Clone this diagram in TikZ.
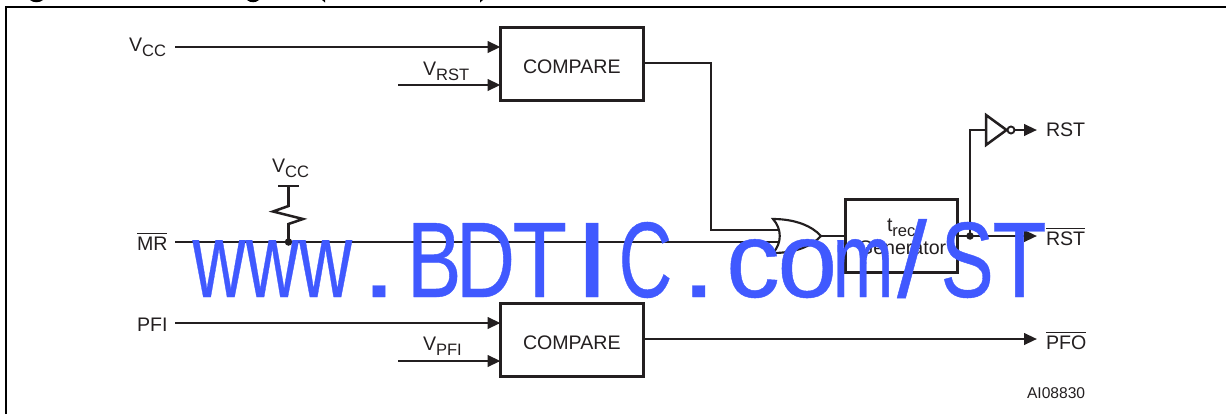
\documentclass[tikz,border=0pt]{standalone}
\usepackage{fontspec}
\setmainfont{Liberation Sans}
\newfontfamily\markfont[FakeBold=0.4]{Liberation Sans}
\usetikzlibrary{arrows.meta}
\def\px{0.75pt}
\def\slashch{/}
\newcommand{\lowsub}[1]{\raisebox{-4pt}{\fontsize{12.4pt}{14pt}\selectfont #1}}
\newcommand{\barred}[1]{\vbox{\hrule height 0.9pt\kern 1.6pt\hbox{#1}}}
\definecolor{ink}{HTML}{231F20}
\definecolor{wmark}{HTML}{4059FF}
\tikzset{
  wire/.style={draw=ink,line width=1.9pt,line cap=butt,line join=miter},
  feed/.style={wire,-{Triangle[length=9.75pt,width=8.6pt]}},
  blockbox/.style={draw=ink,line width=2.25pt,fill=white,inner sep=0pt,outer sep=0pt,minimum height=73*\px},
  lbl/.style={anchor=base west,inner sep=0pt,outer sep=0pt,font=\fontsize{14.7pt}{17pt}\selectfont,text=ink},
  smalllbl/.style={lbl,font=\fontsize{11.7pt}{14pt}\selectfont},
  joint/.style={circle,fill=ink,inner sep=0pt,minimum size=7.5*\px},
  gateline/.style={draw=ink,line width=1.6pt,fill=white,line join=miter},
  markchar/.style={anchor=base,inner sep=0pt,outer sep=0pt,text=wmark,font=\markfont\fontsize{80.6pt}{90pt}\selectfont},
}
\begin{document}
\begin{tikzpicture}[x=0.75pt,y=-0.75pt]
\useasboundingbox (0,0) rectangle (1226,414);
\clip (0,0) rectangle (1226,414);
% title fragments cut by the page edge
\fill[black] (30,0) .. controls (33,3) and (40,3) .. (43,0) -- cycle;
\fill[black] (247,0) .. controls (250,3) and (256,3) .. (259,0) -- cycle;
\fill[black] (322,0) -- (325,0) -- (325,2.5) -- cycle;
\fill[black] (480,2.5) -- (483,0) -- (480,0) -- cycle;
% frame
\coordinate (frameA) at (6,414);
\coordinate (frameB) at (6,7);
\coordinate (frameC) at (1226,7);
\draw[black,line width=2pt] (frameA) -- (frameB) -- (frameC);
% blocks
\node[blockbox,minimum width=143*\px] (cmpA) at (572,64) {};
\node[blockbox,minimum width=143*\px] (cmpB) at (572,340) {};
\node[blockbox,minimum width=112*\px] (gen) at (901.5,236) {};
\node[lbl] (cmpAtxt) at (523,73) {COMPARE};
\node[lbl] (cmpBtxt) at (523,349) {COMPARE};
\node[lbl] (trec) at (887,231) {t\lowsub{rec}};
\node[lbl] (gentxt) at (858,254) {Generator};
% labels
\node[lbl] (lVcc) at (129,51) {V\lowsub{CC}};
\node[lbl] (lVrst) at (423,75) {V\lowsub{RST}};
\node[lbl] (lVccB) at (272,172) {V\lowsub{CC}};
\node[lbl] (lMR) at (137,250) {\barred{MR}};
\node[lbl] (lPFI) at (137,331) {PFI};
\node[lbl] (lVpfi) at (423,350) {V\lowsub{PFI}};
\node[lbl] (lRST) at (1046,136) {RST};
\node[lbl] (lnRST) at (1046,245) {\barred{RST}};
\node[lbl] (lPFO) at (1046,349) {\barred{PFO}};
\node[smalllbl] (lId) at (1027,398) {AI08830};
% free ends
\coordinate (sVcc) at (175,47);
\coordinate (sVrst) at (398,85);
\coordinate (sMR) at (175,242);
\coordinate (sPFI) at (175,323);
\coordinate (sVpfi) at (398,361);
\coordinate (endRST) at (1037,236);
\coordinate (endPFO) at (1037,339);
\coordinate (endInv) at (1037,130);
\coordinate (turnA) at (711,63);
\coordinate (orTop) at (778,230);
\coordinate (orBot) at (778,242);
\coordinate (orOut) at (821,236);
\coordinate (tap) at (970,236);
\coordinate (invIn) at (986,130);
\coordinate (invOut) at (1006.5,130);
\coordinate (railL) at (278,186);
\coordinate (railR) at (299,186);
\coordinate (railM) at (288.5,186);
\coordinate (pull) at (288.5,242);
% input connectors
\draw[feed] (sVcc) -- (sVcc -| cmpA.west);
\draw[feed] (sVrst) -- (sVrst -| cmpA.west);
\draw[feed] (sPFI) -- (sPFI -| cmpB.west);
\draw[feed] (sVpfi) -- (sVpfi -| cmpB.west);
% compare to OR
\draw[wire] (cmpA.east |- turnA) -- (turnA) |- (orTop);
\draw[wire] (sMR) -- (orBot);
% OR gate
\draw[gateline] (773,219) .. controls (795,219) and (812,226) .. (orOut)
  .. controls (812,246) and (795,253) .. (773,253)
  .. controls (782,243) and (782,229) .. cycle;
\draw[wire] (orOut) -- (orOut -| gen.west);
% outputs
\draw[feed] (tap -| gen.east) -- (endRST);
\draw[wire] (tap) |- (invIn);
\node[joint] (tapdot) at (tap) {};
\draw[draw=ink,line width=1.9pt,line join=miter] (invIn |- 0,115) -- (invOut) -- (invIn |- 0,145) -- cycle;
\node[circle,draw=ink,line width=1.4pt,fill=white,inner sep=0pt,minimum size=7*\px] (bubble) at (1011,130) {};
\draw[feed] (bubble) -- (endInv);
\draw[feed] (cmpB.east |- endPFO) -- (endPFO);
% pull-up
\draw[wire] (railL) -- (railR);
\draw[wire] (railM) -- (288.5,206) -- (273,211.5) -- (303,219) -- (288.5,224) -- (pull);
\node[joint] (pulldot) at (pull) {};
% watermark: equal pitch letters
\foreach \cx/\sc/\ch [count=\i] in {
  219/0.68/w, 272.3/0.68/w, 325.6/0.68/w, 378.9/1.2/., 434.2/0.76/B, 485.5/0.76/D,
  539.8/0.83/T, 592.1/1.2/I, 645.4/0.69/C, 698.7/1.2/., 753/1/c, 807.3/1/o,
  863/0.68/m, 912/1/{\slashch}, 967.2/0.74/S, 1019.5/0.83/T}
  \node[markchar] (mark\i) at (\cx,297) {\scalebox{\sc}[1]{\ch}};
\end{tikzpicture}
\end{document}
